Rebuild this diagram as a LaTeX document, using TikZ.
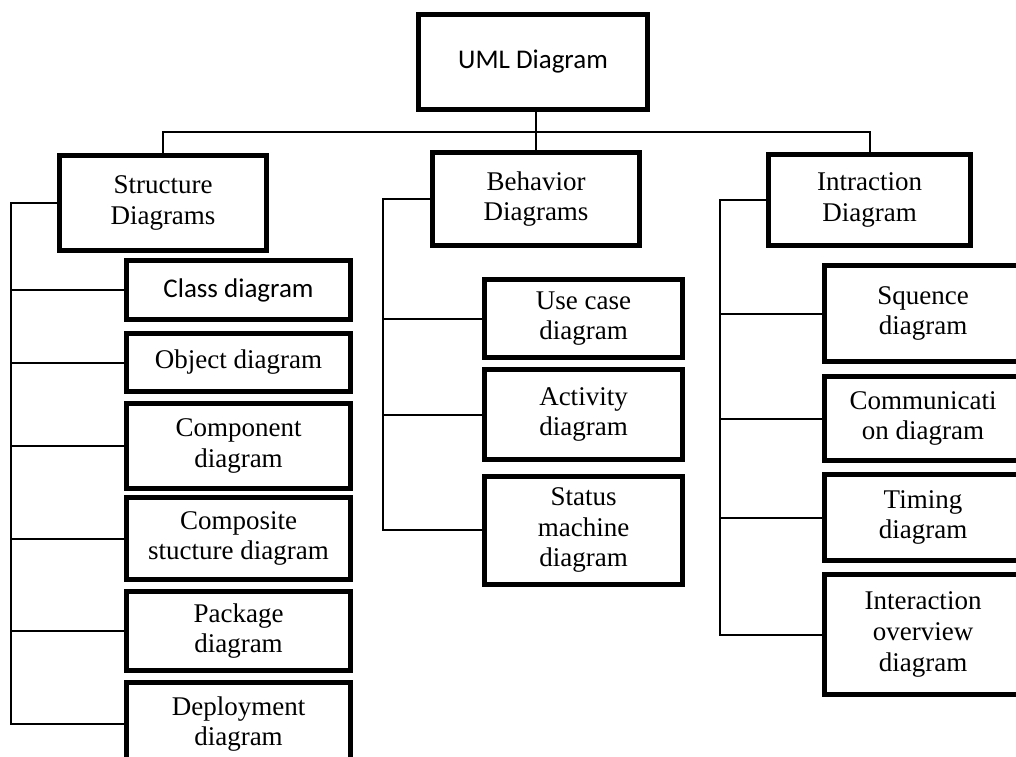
\documentclass[tikz,border=0pt]{standalone}
\usepackage{fontspec}
\setmainfont{Liberation Serif}
\newfontfamily\calfont{Carlito}
\usepackage{tikz}
\usetikzlibrary{calc}

\begin{document}
\begin{tikzpicture}[x=0.5pt,y=-0.5pt,
    box/.style={draw,line width=2.5pt,inner sep=0pt,align=center,
      font=\fontsize{13.5}{15.4}\selectfont},
    cbox/.style={box,font=\calfont\fontsize{13.5}{16}\selectfont},
    link/.style={line width=1pt}]
          \useasboundingbox (0,0) rectangle (1016,756);
          % top level
          \node[cbox,minimum width=114.5pt,minimum height=47.5pt] (uml) at (533,62) {UML Diagram};
          \node[box,minimum width=103.5pt,minimum height=47.5pt] (str) at (163,203) {Structure\\Diagrams};
          \node[box,minimum width=103.5pt,minimum height=46.5pt] (beh) at (536,199) {Behavior\\Diagrams};
          \node[box,minimum width=101pt,minimum height=45.5pt] (int) at (869.5,200) {Intraction\\Diagram};
          \coordinate (bus) at (536,132);
          \draw[link] (bus |- uml.south) -- (beh.north);
          \draw[link] (str.north) |- (bus) -| (int.north);
          % structure diagrams
          \node[cbox,minimum width=112pt,minimum height=29.5pt] (cls) at (238.5,290) {Class diagram};
          \node[box,minimum width=112pt,minimum height=29pt] (obj) at (238.5,362.5) {Object diagram};
          \node[box,minimum width=112pt,minimum height=42.5pt] (cmp) at (238.5,446) {Component\\diagram};
          \node[box,minimum width=112pt,minimum height=41pt] (cst) at (238.5,538.5) {Composite\\stucture diagram};
          \node[box,minimum width=112pt,minimum height=39.5pt] (pkg) at (238.5,631) {Package\\diagram};
          \node[box,minimum width=112pt,minimum height=41.5pt] (dep) at (238.5,724) {Deployment\\diagram};
          \coordinate (sl) at (11,203);
          \draw[link] (str.west) -- (sl) |- (dep.west);
          \foreach \n in {cls,obj,cmp,cst,pkg}
            \draw[link] (sl |- \n.west) -- (\n.west);
          % behavior diagrams
          \node[box,minimum width=99pt,minimum height=39pt] (use) at (583.5,318.5) {Use case\\diagram};
          \node[box,minimum width=99pt,minimum height=45pt] (act) at (583.5,414.5) {Activity\\diagram};
          \node[box,minimum width=99pt,minimum height=54pt] (sta) at (583.5,530) {Status\\machine\\diagram};
          \coordinate (bl) at (383,199);
          \draw[link] (beh.west) -- (bl) |- (sta.west);
          \foreach \n in {use,act}
            \draw[link] (bl |- \n.west) -- (\n.west);
          % interaction diagrams
          \node[box,minimum width=98.5pt,minimum height=48pt] (seq) at (923,313.5) {Squence\\diagram};
          \node[box,minimum width=98.5pt,minimum height=42pt] (com) at (923,418.5) {Communicati\\on diagram};
          \node[box,minimum width=98.5pt,minimum height=43pt] (tim) at (923,517.5) {Timing\\diagram};
          \node[box,minimum width=98.5pt,minimum height=60pt] (ovr) at (923,634.5) {Interaction\\overview\\diagram};
          \coordinate (il) at (720,200);
          \draw[link] (int.west) -- (il) |- (ovr.west);
          \foreach \n in {seq,com,tim}
            \draw[link] (il |- \n.west) -- (\n.west);
        \end{tikzpicture}
\end{document}
